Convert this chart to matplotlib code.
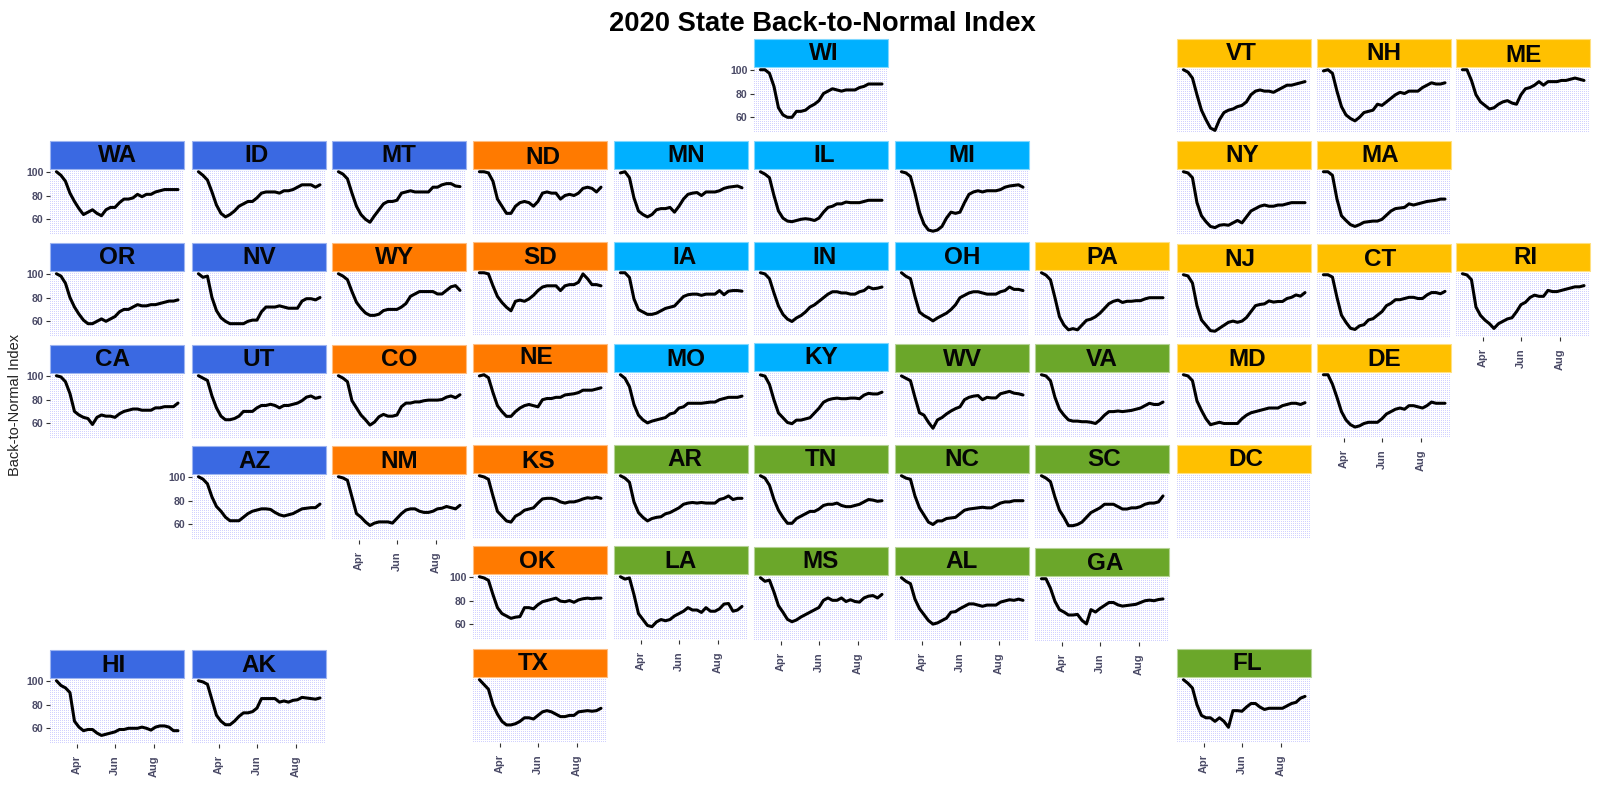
import numpy as np
import pandas as pd
import matplotlib
matplotlib.use("Agg")
import matplotlib.pyplot as plt
from matplotlib.colors import to_rgb
from matplotlib.patches import Rectangle

plt.rcParams['font.family'] = ['Liberation Sans', 'DejaVu Sans']

DATES = pd.date_range('2020-02-29', '2020-09-08', periods=28)

WA = [100,97,92,82,75,69,64,66,68,65,63,68,70,70,74,77,77,78,81,79,81,81,83,84,85,85,85,85]
ID = [100,97,93,83,72,65,62,64,67,71,73,75,75,78,82,83,83,83,82,84,84,85,87,89,89,89,87,89]
MT = [100,98,94,82,71,64,60,57.5,63,68,73,75,75,76,82,83,84,83,83,83,83,87,87,89,90,90,88,87.5]
ND = [100,100,99,92,77,71,65,65,71,74,75,74,71,75,82,83,82,82,77,80,81,80,82,86,87,86,83,87]
MN = [99,100,95,78,67,64,62,64,68,69,69,70,66,71,77,81,82,82.5,80,83,83,83,84,86,87,87.5,88,86.5]
IL = [100,98,95,80,67,61,58.5,58,59,60,60.5,60,59,61,66,70,71,73,73,74.5,74,74,74,75,76,76,76,76]
MI = [100,99,96,82,66,56,51,50,51,54,61,66,65,66,74,81,83,84,83,84,84,84,85,87,88,88.5,89,87]
WI = [100,100,97,86,68,62,60,60,65,65,66,69,71,74,80,82,84,83,82,83,83,83,85,86,88,88,88,88]
VT = [100,98,93,79,66,58,51,49,58,64,66,67,69,70,73,79,82,83,82,82,81,83,85,87,87,88,89,90]
NH = [99,100,97,82,69,62,59,57,60,64,65,66,71,70,73,76,79,81,80,82,82,82,85,87,89,88,88,89]
ME = [100,100,91,79,73,70,67,68,71,73,74,72,71,79,84,85,87,90,87,90,90,90,91,91,92,93,92,91]
NY = [100,99,95,74,63,58,54,53,55,55.5,55,57,59,57,62,67,69,71,72,71,71,72,72,73,74,74,74,74]
MA = [100,100,97,77,63,59,55.5,54,55.5,57.5,58,58.5,58.5,60,63.5,67,69,69.5,70,73,72,73,74,75,75.5,76,77,77]
OR = [100,98,92,80,72,66,61,58,58,60,62,60,62,64,68,70,70,72,74,73,73,74,74,75,76,77,77,78]
NV = [100,97,98,80,69,63,60,58,58,58,58,60,61,61,68,72,72,72,73,72,71,71,71,77,79,79,78,80]
WY = [100,98,95,85,76,71,67,65,65,66,69,70,70,70,72,75,81,83,85,85,85,85,83,83,86,89,90,86]
SD = [100,100,99,89,80,75,71,68,76,77,76,78,81,85,88,89,89,89,85,89,90,90,92,99,95,90,90,89]
IA = [100,100,96,78,69,67,65,65,66,68,70,71,72,76,80,81.5,82,82,81,82,82,82,85,81.5,84.5,85,85,84.5]
IN = [100,99,95,83,72,65,61,59,62,64,67,71,73,76,79,82,84,84,83,83,82,82,84,85,88,86.5,87,88]
OH = [100,97,95,80,67,64,62,59.5,62,64,66,69,73,79,81,83,84,84,83,82,82,82,84,85,88,86,86,85]
PA = [100,98,94,79,63,56,52,53,52,56,60,61,63,66,70,74,76,77,75,76,76,76.5,76.5,78,79,79,79,79]
NJ = [100,99,93,74,62,57.5,53,52.5,55,57.5,60,61,60,61,64,69,74,75,75.5,78,77,77.5,77.5,80,81,83,82,85]
CT = [100,100,98,81,66,60,55,54,57,58,62,63,66,69,74,76,79,79,80,81,81,80,80,83,85,85,84,86]
RI = [100,99,95,72,65,61,58,54,58,60,62,63,68,74,76,80,82,81,81,86,85,85,86,87,88,89,89,90]
CA = [100,99,95,85,70,67,65,64,59,65,67,66,66,65,68,70,71,72,72,71,71,71,73,73,74,74,74,77]
UT = [100,98,96,83,73,66,63,63,64,66,70,70,70,73,75,75,76,75,73,75,75,76,77,79,82,83,81,82]
CO = [100,98,95,79,73,67,63,58.5,61,65.5,67.5,66,66,67,74,77,77,78,78,79,79.5,79.5,79.5,80,82,83,81.5,84]
NE = [99,100,97.5,85,74,69,65,65,69,72,74,75,74,73,79,80,80,81,81,83,83.5,84,85,87,87,87,88,89]
MO = [100,97,90,75,66,62,59.5,61,62,63,64,67,68,72,73,76,76,76,76,76.5,77,77,79,80,81,81,81,82]
KY = [99,98,91,78,67,63,59,58,61,61,62,63,67,71,76,78,79,79.5,79,79,79.5,79.5,79,82,83.5,83,83,84.5]
WV = [99,97,95,81,68,66,60,55,62,64,67,69.5,71.5,73,79,81,82,82.5,79,81,80.5,80.5,84,85,86,84.5,84,83]
VA = [100,99,95,81,71,66,62,61,61,60.5,60.5,60,59,62,66,69,69,69.5,69,69.5,70,71,72,74,76,75,75,77]
MD = [100,99,95,78,70,63,58,59,60,59,59,59,59,63,66,68,69,70,71,72,72,72,74,75,76,76,75,76.5]
DE = [100,100,92,81,69,62,58,56,57,59,60,60,60,63,67,69,71,72,71,74,74,73,72,74,77,76,76,76]
AZ = [100,98,94,83,75,71,66,63,63,63,66,69,71,72,73,73,72.5,70,68,67,68,69,71,73,73.5,74,74,77]
NM = [100,99,97,83,69,66,62,59,61,62,62,62,61,65,69,72,73,73,71,70,70,71,73,73.5,75,74,73,76]
KS = [100,99,97,83,70,66,62,61,66,68,71,72,73,77,80.5,81,81,80,78,77,78,78,79,80.5,81.5,81,82,81]
AR = [100,98,94.5,78,69,65,62,64,65,65.5,68,69,71,73,76,77,77.5,77,77.5,77,77,77,80,81,83,80,81,81]
TN = [100,98,92,80,71,65,60,60,64,66,68,70,70,72,75,76,76,77,75,74,74,75,76,78,80,79.5,78.5,79]
NC = [100,98,97,83,73,67,61,59,62,62,64,64.5,65,68,71,72,72.5,73,73.5,73,73,75,77,78,78,79,79,79]
SC = [100,98,95,82,71,65,58,58,59,61,65,69,71,73,76,76,76,74,72,72,73,73,74,76,77,77,78,83]
OK = [100,99,97,85,74,69,67,65,66,66.5,74,74,73,76.5,79,80,81,82,79.5,79,80,78.5,80.5,81.5,82,81.5,82,82]
LA = [100,98,99,85,69,64,59,58,62,64,63,64,67,69,71,74,72,72,70,74,71,71,73,77,77.5,71,72,75]
MS = [100,97,98,88,76.5,71,65,63,64.5,67,69,71,73,75,81,83,81,81,83,80,81.5,80,79.5,83,84.5,85,83,86]
AL = [100,97,95,82,74,69,64,61,62,64,66,71,71.5,74,76,78,78,77,76,77,77,77,79.5,80.5,81.5,81,82,81]
GA = [100,100,92,81,74,72,69.5,69.5,70,65,62,74,72,75,77.5,80,80,78,77,77.5,78,78.5,80,81.5,82,81.5,82.5,83]
TX = [100,96,92,79,71,65,62,62,63,65,68,68,67,70,73,74,73,71,69,69,70,70,73,73.5,74,73.5,74,76]
FL = [100,97,93,79,70,68,68,65,68,65,60,74,74,73.5,77,80,80,77,75,76,76,76,76,78,80,81,84.5,86]
HI = [100,96,94,90,66,61,58,59,59,56,54,55,56,57,59,59,60,60,60,61,60,58.5,61,62,62,61,58,58]
AK = [100,99,97,84,71,66,63,63,66,70,73,73,74,77,85,85,85,85,82,83,82,83.5,84,86,85.5,85,84.5,85.5]

MONTH_TICKS = ['2020-04-01', '2020-06-01', '2020-08-01']
MONTH_LABELS = ['Apr', 'Jun', 'Aug']
Y_TICKS = [60, 80, 100]

BLUE, ORANGE, SKY, GREEN, YELLOW = '#3A69E2', '#FF7A00', '#00B0FF', '#6BA72A', '#FFC000'

STATES = {
    'WI': (0, 5, WI, SKY), 'VT': (0, 8, VT, YELLOW), 'NH': (0, 9, NH, YELLOW), 'ME': (0, 10, ME, YELLOW),
    'WA': (1, 0, WA, BLUE), 'ID': (1, 1, ID, BLUE), 'MT': (1, 2, MT, BLUE), 'ND': (1, 3, ND, ORANGE),
    'MN': (1, 4, MN, SKY), 'IL': (1, 5, IL, SKY), 'MI': (1, 6, MI, SKY), 'NY': (1, 8, NY, YELLOW), 'MA': (1, 9, MA, YELLOW),
    'OR': (2, 0, OR, BLUE), 'NV': (2, 1, NV, BLUE), 'WY': (2, 2, WY, ORANGE), 'SD': (2, 3, SD, ORANGE),
    'IA': (2, 4, IA, SKY), 'IN': (2, 5, IN, SKY), 'OH': (2, 6, OH, SKY), 'PA': (2, 7, PA, YELLOW),
    'NJ': (2, 8, NJ, YELLOW), 'CT': (2, 9, CT, YELLOW), 'RI': (2, 10, RI, YELLOW),
    'CA': (3, 0, CA, BLUE), 'UT': (3, 1, UT, BLUE), 'CO': (3, 2, CO, ORANGE), 'NE': (3, 3, NE, ORANGE),
    'MO': (3, 4, MO, SKY), 'KY': (3, 5, KY, SKY), 'WV': (3, 6, WV, GREEN), 'VA': (3, 7, VA, GREEN),
    'MD': (3, 8, MD, YELLOW), 'DE': (3, 9, DE, YELLOW),
    'AZ': (4, 1, AZ, BLUE), 'NM': (4, 2, NM, ORANGE), 'KS': (4, 3, KS, ORANGE), 'AR': (4, 4, AR, GREEN),
    'TN': (4, 5, TN, GREEN), 'NC': (4, 6, NC, GREEN), 'SC': (4, 7, SC, GREEN), 'DC': (4, 8, None, YELLOW),
    'OK': (5, 3, OK, ORANGE), 'LA': (5, 4, LA, GREEN), 'MS': (5, 5, MS, GREEN), 'AL': (5, 6, AL, GREEN), 'GA': (5, 7, GA, GREEN),
    'HI': (6, 0, HI, BLUE), 'AK': (6, 1, AK, BLUE), 'TX': (6, 3, TX, ORANGE), 'FL': (6, 8, FL, GREEN),
}
Y_AXIS_STATES = {'WI', 'WA', 'OR', 'CA', 'AZ', 'OK', 'HI'}
X_AXIS_STATES = {'RI', 'DE', 'NM', 'LA', 'MS', 'AL', 'GA', 'HI', 'AK', 'TX', 'FL'}

W, H = 1615, 800
COL_LEFT = [50, 192, 332, 473, 614, 754, 895, 1035, 1177, 1317, 1456]
ROW_TOP = [39, 141, 243, 344, 445, 547, 649]
NUDGE_Y = {'SD': -1, 'IA': -1, 'IN': -1, 'OH': -1, 'PA': -1, 'NJ': 1, 'CT': 1, 'KY': -1, 'CA': 1, 'UT': 1,
           'CO': 1, 'AZ': 1, 'NM': 1, 'LA': -1, 'OK': -1, 'GA': 1, 'HI': 1, 'AK': 1}
LABEL_DX = {'ID': -2, 'WY': -4, 'CA': -4, 'VT': -3, 'NY': -2, 'MA': -4, 'NJ': -4, 'CT': -4, 'RI': 2, 'MD': 3,
            'SC': 2, 'DC': 2, 'AZ': -4, 'OK': -3, 'GA': 3, 'TX': -7, 'HI': -3, 'FL': 3, 'MN': 5, 'IA': 4,
            'MO': 5, 'AR': 4, 'NE': -4, 'IL': 3, 'IN': 3, 'WI': 3, 'ND': 3, 'KS': -2, 'ME': 1}
LABEL_DY = {'ND': 2, 'KS': 2, 'NE': -2, 'ME': 2, 'NJ': 1, 'MO': 1, 'VT': -1, 'NH': -1, 'WI': -1}
STRIP_W, STRIP_H, PANEL_W, PANEL_H = 134, 28, 133, 66

# lavender dither behind each panel, placed pixel for pixel
pattern = np.ones((PANEL_H, PANEL_W, 3))
yy, xx = np.mgrid[0:PANEL_H, 0:PANEL_W]
pattern[(xx % 2 == 0) & (yy % 2 == 0)] = (0.82, 0.82, 1.0)

fig = plt.figure(figsize=(W / 100, H / 100), dpi=100, facecolor='white')
x0 = pd.Timestamp('2020-04-01') - pd.Timedelta(days=42.2)
x1 = x0 + pd.Timedelta(days=PANEL_W / 0.633)
tick_dates = pd.to_datetime(MONTH_TICKS)

for st, (r, c, vals, col) in STATES.items():
    left, top = COL_LEFT[c], ROW_TOP[r] + NUDGE_Y.get(st, 0)
    edge = tuple(0.5 * v + 0.5 for v in to_rgb(col))
    fig.figimage(pattern, xo=left, yo=H - (top + STRIP_H + PANEL_H), zorder=-5)
    fig.add_artist(Rectangle((left / W, 1 - (top + STRIP_H) / H), STRIP_W / W, STRIP_H / H,
                             transform=fig.transFigure, facecolor=col, edgecolor=edge, lw=0.8))
    fig.text((left + STRIP_W / 2 + LABEL_DX.get(st, 0)) / W,
             1 - (top + STRIP_H / 2 + 1 + LABEL_DY.get(st, 0)) / H, st, ha='center', va='center',
             fontsize=17.5, fontweight='bold', color='#050505')
    ax = fig.add_axes([left / W, 1 - (top + STRIP_H + PANEL_H) / H, PANEL_W / W, PANEL_H / H])
    ax.patch.set_visible(False)
    if vals is not None:
        ax.plot(DATES, vals, color='black', lw=2.2, solid_capstyle='round', solid_joinstyle='round', zorder=3)
    ax.set_xlim(x0, x1)
    ax.set_ylim(46.8, 102.3)
    for s in ax.spines.values():
        s.set_visible(False)
    if st in Y_AXIS_STATES:
        ax.set_yticks(Y_TICKS)
        ax.set_yticklabels([str(v) for v in Y_TICKS], fontsize=7.6, fontweight='bold', color='#4A4A66')
        ax.tick_params(axis='y', length=3, width=0.8, color='#333333', pad=1.5)
    else:
        ax.set_yticks([])
    if st in X_AXIS_STATES:
        ax.set_xticks(tick_dates)
        ax.set_xticklabels(MONTH_LABELS, rotation=90, fontsize=7.9, fontweight='bold', color='#4A4A66')
        ax.tick_params(axis='x', length=3, width=0.8, color='#333333', pad=5)
        for lab in ax.get_xticklabels():
            lab.set_ha('right')
            lab.set_rotation_mode('anchor')
            lab.set_va('center')
    else:
        ax.set_xticks([])

fig.text(822 / W, 1 - 24 / H, '2020 State Back-to-Normal Index', ha='center', va='center',
         fontsize=19.7, fontweight='bold', color='black')
fig.text(15 / W, 1 - 405 / H, 'Back-to-Normal Index', rotation=90, ha='center', va='center',
         fontsize=10.5, color='#222222')

fig.savefig('out.png', dpi=100)
